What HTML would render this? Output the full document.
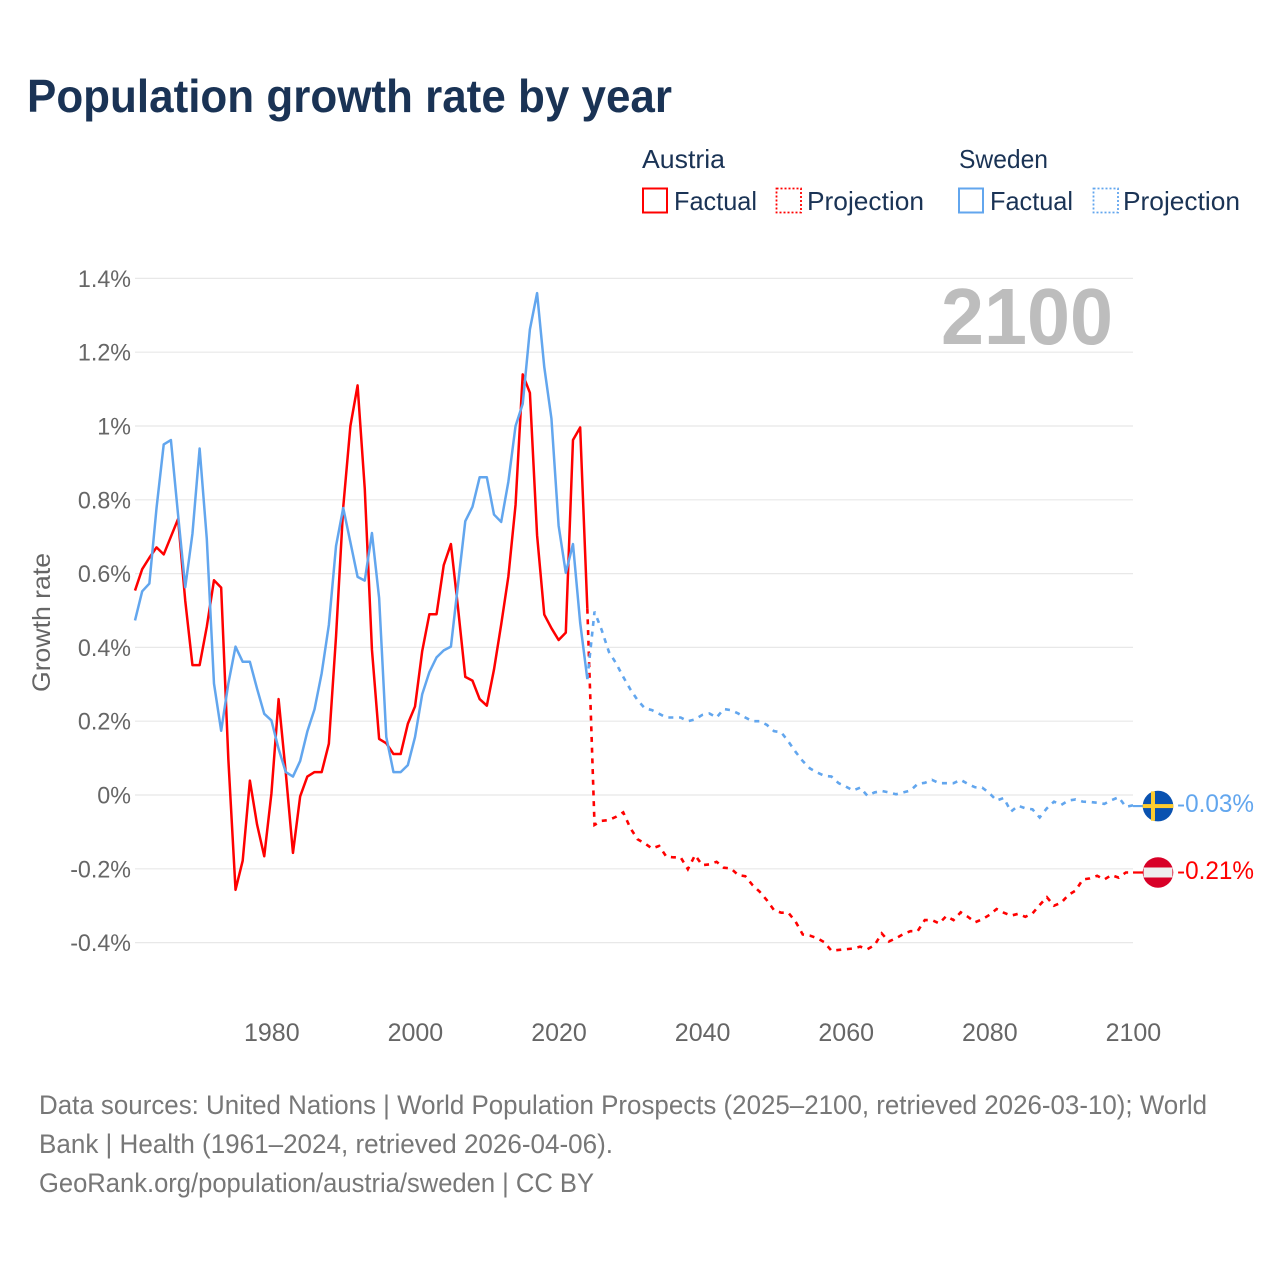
<!DOCTYPE html>
<html lang="en">
<head>
<meta charset="utf-8">
<title>Population growth rate by year</title>
<style>
html,body{margin:0;padding:0;background:#fff;}
body{width:1280px;height:1280px;overflow:hidden;font-family:"Liberation Sans",sans-serif;}
svg{display:block;}
text{font-family:"Liberation Sans",sans-serif;}
</style>
</head>
<body>
<svg id="chart" xmlns="http://www.w3.org/2000/svg" width="1280" height="1280" viewBox="0 0 1280 1280">
  <rect x="0" y="0" width="1280" height="1280" fill="#fff"/>
  <text x="27" y="112" font-size="46" font-weight="700" fill="#1a3355" textLength="645" lengthAdjust="spacingAndGlyphs">Population growth rate by year</text>

  <g>
    <text x="642" y="168" font-size="26" fill="#1a3355" textLength="83" lengthAdjust="spacingAndGlyphs">Austria</text>
    <text x="959" y="168" font-size="26" fill="#1a3355" textLength="89" lengthAdjust="spacingAndGlyphs">Sweden</text>
    <rect x="643" y="188.5" width="24" height="24" fill="none" stroke="#ff0000" stroke-width="2"/>
    <text x="674" y="210" font-size="26" fill="#1a3355" textLength="83" lengthAdjust="spacingAndGlyphs">Factual</text>
    <rect x="776.5" y="188.5" width="24.5" height="24" fill="none" stroke="#ff0000" stroke-width="1.8" stroke-dasharray="2 2"/>
    <text x="807" y="210" font-size="26" fill="#1a3355" textLength="117" lengthAdjust="spacingAndGlyphs">Projection</text>
    <rect x="959" y="188.5" width="24" height="24" fill="none" stroke="#62a6ee" stroke-width="2"/>
    <text x="990" y="210" font-size="26" fill="#1a3355" textLength="83" lengthAdjust="spacingAndGlyphs">Factual</text>
    <rect x="1093.5" y="188.5" width="24.5" height="24" fill="none" stroke="#62a6ee" stroke-width="1.8" stroke-dasharray="2 2"/>
    <text x="1123" y="210" font-size="26" fill="#1a3355" textLength="117" lengthAdjust="spacingAndGlyphs">Projection</text>
  </g>

  <g id="grid"></g>
  <g id="yticks"></g>
  <g id="xticks"></g>
  <text transform="translate(50 622.5) rotate(-90)" text-anchor="middle" font-size="25" fill="#666" textLength="139" lengthAdjust="spacingAndGlyphs">Growth rate</text>
  <text x="941" y="344" font-size="80" font-weight="700" fill="#bdbdbd" textLength="172" lengthAdjust="spacingAndGlyphs">2100</text>
  <g id="series"></g>

  <g id="end-markers"></g>

  <g>
    <text x="39" y="1114" font-size="26.5" fill="#777" textLength="1168" lengthAdjust="spacingAndGlyphs">Data sources: United Nations | World Population Prospects (2025–2100, retrieved 2026-03-10); World</text>
    <text x="39" y="1153" font-size="26.5" fill="#777" textLength="574" lengthAdjust="spacingAndGlyphs">Bank | Health (1961–2024, retrieved 2026-04-06).</text>
    <text x="39" y="1192" font-size="26.5" fill="#777" textLength="555" lengthAdjust="spacingAndGlyphs">GeoRank.org/population/austria/sweden | CC BY</text>
  </g>
</svg>

<script>
var firstYear = 1961;
var projectionStartYear = 2025;
var yTickValues = [-0.4, -0.2, 0, 0.2, 0.4, 0.6, 0.8, 1, 1.2, 1.4];
var yTickLabels = ["-0.4%", "-0.2%", "0%", "0.2%", "0.4%", "0.6%", "0.8%", "1%", "1.2%", "1.4%"];
var xTickYears = [1980, 2000, 2020, 2040, 2060, 2080, 2100];

var austriaFactual = [
  0.554,0.612,0.643,0.671,0.652,0.70,0.748,0.526,0.352,0.352,
  0.456,0.582,0.562,0.097,-0.257,-0.178,0.039,-0.08,-0.166,0.004,
  0.26,0.06,-0.157,-0.004,0.05,0.062,0.062,0.139,0.43,0.78,
  1.0,1.11,0.83,0.394,0.152,0.14,0.111,0.111,0.193,0.24,
  0.39,0.49,0.49,0.623,0.68,0.505,0.32,0.31,0.26,0.242,
  0.34,0.462,0.592,0.786,1.14,1.09,0.704,0.489,0.452,0.42,
  0.44,0.962,0.996,0.505
];
var swedenFactual = [
  0.473,0.552,0.573,0.778,0.95,0.962,0.759,0.563,0.708,0.939,
  0.694,0.302,0.174,0.302,0.402,0.361,0.361,0.288,0.22,0.202,
  0.125,0.062,0.05,0.092,0.172,0.232,0.33,0.461,0.675,0.778,
  0.685,0.591,0.581,0.71,0.534,0.157,0.062,0.062,0.081,0.157,
  0.273,0.333,0.373,0.392,0.402,0.573,0.742,0.781,0.861,0.861,
  0.76,0.74,0.849,1.0,1.06,1.262,1.36,1.16,1.02,0.73,
  0.602,0.68,0.467,0.314
];
var austriaProjection = [
  -0.081,-0.07,-0.068,-0.059,-0.047,-0.09,-0.12,-0.131,-0.145,-0.138,
  -0.167,-0.169,-0.169,-0.201,-0.163,-0.19,-0.188,-0.181,-0.197,-0.199,
  -0.217,-0.22,-0.244,-0.262,-0.285,-0.312,-0.319,-0.319,-0.343,-0.378,
  -0.381,-0.388,-0.399,-0.422,-0.42,-0.418,-0.416,-0.411,-0.418,-0.407,
  -0.375,-0.397,-0.388,-0.377,-0.369,-0.369,-0.339,-0.339,-0.348,-0.328,
  -0.339,-0.318,-0.33,-0.345,-0.337,-0.325,-0.309,-0.319,-0.327,-0.322,
  -0.33,-0.321,-0.298,-0.277,-0.3,-0.292,-0.271,-0.259,-0.229,-0.226,
  -0.219,-0.229,-0.217,-0.224,-0.21,-0.21
];
var swedenProjection = [
  0.497,0.447,0.388,0.357,0.32,0.286,0.257,0.235,0.23,0.22,
  0.21,0.21,0.21,0.2,0.205,0.217,0.221,0.21,0.233,0.23,
  0.221,0.21,0.2,0.2,0.19,0.173,0.17,0.145,0.117,0.092,
  0.072,0.061,0.052,0.05,0.032,0.023,0.012,0.02,-0.002,0.007,
  0.011,0.007,0.002,0.007,0.012,0.03,0.033,0.041,0.032,0.032,
  0.032,0.041,0.03,0.021,0.02,0.005,-0.015,-0.008,-0.045,-0.029,
  -0.036,-0.039,-0.061,-0.036,-0.018,-0.027,-0.015,-0.012,-0.018,-0.019,
  -0.021,-0.024,-0.014,-0.006,-0.032,-0.028
];
var austriaEndLabel = "-0.21%";
var swedenEndLabel = "-0.03%";
var austriaEndValue = -0.21;
var swedenEndValue = -0.03;

var NS = "http://www.w3.org/2000/svg";
var RED = "#ff0000";
var BLUE = "#62a6ee";
function xScale(year) { return 135 + (year - 1961) * 7.18; }
function yScale(v) { return 795 - v * 369; }
function linePath(values, startYear) {
  return values.map(function (v, i) {
    return (i ? "L" : "M") + xScale(startYear + i).toFixed(2) + " " + yScale(v).toFixed(2);
  }).join("");
}
function make(tag, parent) {
  var el = document.createElementNS(NS, tag);
  parent.appendChild(el);
  return el;
}

var grid = document.getElementById("grid");
var yticks = document.getElementById("yticks");
yTickValues.forEach(function (v, i) {
  var line = make("line", grid);
  
  
  line.setAttribute("x1", 135);
  line.setAttribute("x2", 1133);
  line.setAttribute("y1", yScale(v));
  line.setAttribute("y2", yScale(v));
  line.setAttribute("stroke", "#e8e8e8");
  line.setAttribute("stroke-width", 1.2);
  var t = make("text", yticks);
  
  
  t.setAttribute("x", 131);
  t.setAttribute("y", yScale(v) + 8.5);
  t.setAttribute("text-anchor", "end");
  t.setAttribute("font-size", 24.5);
  t.setAttribute("fill", "#666");
  t.textContent = yTickLabels[i];
  t.setAttribute("textLength", (t.getComputedTextLength() * 0.95).toFixed(1));
  t.setAttribute("lengthAdjust", "spacingAndGlyphs");
});

var xticks = document.getElementById("xticks");
xTickYears.forEach(function (year) {
  var t = make("text", xticks);
  
  
  t.setAttribute("x", xScale(year) + 0.4);
  t.setAttribute("y", 1041);
  t.setAttribute("text-anchor", "middle");
  t.setAttribute("font-size", 25);
  t.setAttribute("fill", "#666");
  t.textContent = year;
});

var series = document.getElementById("series");

var austriaProj = make("path", series);


austriaProj.setAttribute("d", linePath([austriaFactual[austriaFactual.length - 1]].concat(austriaProjection), projectionStartYear - 1));
austriaProj.setAttribute("fill", "none");
austriaProj.setAttribute("stroke", RED);
austriaProj.setAttribute("stroke-width", 2.6);
austriaProj.setAttribute("stroke-dasharray", "5 5.7");

var swedenProj = make("path", series);


swedenProj.setAttribute("d", linePath([swedenFactual[swedenFactual.length - 1]].concat(swedenProjection), projectionStartYear - 1));
swedenProj.setAttribute("fill", "none");
swedenProj.setAttribute("stroke", BLUE);
swedenProj.setAttribute("stroke-width", 2.6);
swedenProj.setAttribute("stroke-dasharray", "5 5.7");

var austriaLine = make("path", series);


austriaLine.setAttribute("d", linePath(austriaFactual, firstYear));
austriaLine.setAttribute("fill", "none");
austriaLine.setAttribute("stroke", RED);
austriaLine.setAttribute("stroke-width", 2.5);
austriaLine.setAttribute("stroke-linejoin", "round");

var swedenLine = make("path", series);


swedenLine.setAttribute("d", linePath(swedenFactual, firstYear));
swedenLine.setAttribute("fill", "none");
swedenLine.setAttribute("stroke", BLUE);
swedenLine.setAttribute("stroke-width", 2.5);
swedenLine.setAttribute("stroke-linejoin", "round");

var markers = document.getElementById("end-markers");
var flagX = 1158;
var flagR = 15.3;
var sy = yScale(swedenEndValue);
var ay = yScale(austriaEndValue);

var sConn = make("line", markers);


sConn.setAttribute("x1", xScale(2100));
sConn.setAttribute("x2", flagX);
sConn.setAttribute("y1", sy);
sConn.setAttribute("y2", sy);
sConn.setAttribute("stroke", BLUE);
sConn.setAttribute("stroke-width", 2.2);

var aConn = make("line", markers);


aConn.setAttribute("x1", xScale(2100));
aConn.setAttribute("x2", flagX);
aConn.setAttribute("y1", ay);
aConn.setAttribute("y2", ay);
aConn.setAttribute("stroke", RED);
aConn.setAttribute("stroke-width", 2.2);

var sFlag = make("circle", markers);


sFlag.setAttribute("cx", flagX);
sFlag.setAttribute("cy", sy);
sFlag.setAttribute("r", flagR);
sFlag.setAttribute("fill", "#0a52b0");

var sBarH = make("rect", markers);


sBarH.setAttribute("x", flagX - flagR);
sBarH.setAttribute("y", sy - 2);
sBarH.setAttribute("width", flagR * 2);
sBarH.setAttribute("height", 4);
sBarH.setAttribute("fill", "#fecc2e");

var sBarV = make("rect", markers);


sBarV.setAttribute("x", flagX - 7);
sBarV.setAttribute("y", sy - flagR + 0.6);
sBarV.setAttribute("width", 4);
sBarV.setAttribute("height", flagR * 2 - 1.2);
sBarV.setAttribute("fill", "#fecc2e");

var aFlag = make("circle", markers);


aFlag.setAttribute("cx", flagX);
aFlag.setAttribute("cy", ay);
aFlag.setAttribute("r", flagR);
aFlag.setAttribute("fill", "#d80027");

var aBand = make("rect", markers);


aBand.setAttribute("x", flagX - 14.4);
aBand.setAttribute("y", ay - 5);
aBand.setAttribute("width", 28.8);
aBand.setAttribute("height", 10);
aBand.setAttribute("fill", "#eeeeee");

var sLabel = make("text", markers);


sLabel.setAttribute("x", 1177);
sLabel.setAttribute("y", sy + 6);
sLabel.setAttribute("font-size", 25);
sLabel.setAttribute("fill", BLUE);
sLabel.setAttribute("textLength", 77);
sLabel.setAttribute("lengthAdjust", "spacingAndGlyphs");
sLabel.textContent = swedenEndLabel;

var aLabel = make("text", markers);


aLabel.setAttribute("x", 1177);
aLabel.setAttribute("y", ay + 6.5);
aLabel.setAttribute("font-size", 25);
aLabel.setAttribute("fill", RED);
aLabel.setAttribute("textLength", 77);
aLabel.setAttribute("lengthAdjust", "spacingAndGlyphs");
aLabel.textContent = austriaEndLabel;
</script>
</body>
</html>
